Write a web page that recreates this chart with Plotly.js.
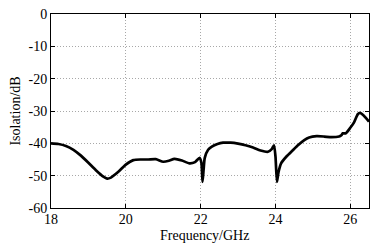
<!DOCTYPE html>
<html><head><meta charset="utf-8">
<script src="https://cdn.plot.ly/plotly-3.0.1.min.js"></script>
<style>html,body{margin:0;padding:0;background:#fff;}#c{width:377px;height:247px;}</style>
</head><body><div id="c"></div>
<script>
const freq = [18.0,18.2,18.4,18.6,18.8,19.0,19.2,19.4,19.5,19.6,19.8,20.0,20.2,20.4,20.6,20.8,21.0,21.15,21.3,21.5,21.7,21.85,21.97,22.02,22.05,22.08,22.11,22.2,22.3,22.45,22.6,22.8,23.0,23.2,23.4,23.6,23.8,23.9,23.96,24.0,24.04,24.08,24.15,24.3,24.45,24.6,24.77,24.9,25.1,25.3,25.5,25.7,25.76,25.8,25.88,26.0,26.1,26.2,26.26,26.35,26.5];
const isolation = [-40.0,-40.2,-40.8,-42.0,-43.8,-46.0,-48.3,-50.3,-50.9,-50.6,-48.8,-46.6,-45.2,-45.0,-45.0,-44.9,-45.7,-45.4,-44.8,-45.3,-46.2,-45.8,-44.5,-46.0,-51.9,-48.0,-44.5,-42.0,-41.0,-40.2,-39.8,-39.8,-40.1,-40.6,-41.3,-42.2,-42.6,-41.8,-40.6,-44.0,-51.9,-49.0,-46.2,-44.0,-42.3,-40.6,-39.0,-38.2,-37.8,-37.9,-38.1,-37.9,-37.5,-36.9,-36.9,-35.2,-33.5,-31.0,-30.6,-31.3,-33.3];
const xTicks = [18,20,22,24,26];
const yTicks = [0,-10,-20,-30,-40,-50,-60];
const xTitle = 'Frequency/GHz';
const yTitle = 'Isolation/dB';

const fam = 'Liberation Serif, Times New Roman, serif';
const axisCommon = {
  showline:true, linecolor:'#000', linewidth:1, mirror:'ticks',
  ticks:'inside', ticklen:4, tickcolor:'#000',
  showgrid:true, gridcolor:'#a8a8a8', griddash:'1px,2px', gridwidth:1,
  zeroline:false,
  tickfont:{family:fam, size:14, color:'#000'}
};
Plotly.newPlot('c', [{
  x: freq, y: isolation, type:'scatter', mode:'lines',
  line:{color:'#000', width:2.7, shape:'spline', smoothing:0.6}
}], {
  width:377, height:247,
  margin:{l:51, r:8, t:14, b:39},
  paper_bgcolor:'#fff', plot_bgcolor:'#fff',
  showlegend:false,
  xaxis: Object.assign({}, axisCommon, {
    range:[18,26.5], tickvals:xTicks, ticktext:xTicks.map(String), ticklabelstandoff:-2
  }),
  yaxis: Object.assign({}, axisCommon, {
    range:[-60,0], tickvals:yTicks, ticktext:yTicks.map(String),
    title:{text:yTitle, standoff:4, font:{family:fam, size:14, color:'#000'}}
  }),
  annotations:[{
    text:xTitle, xref:'paper', yref:'paper', x:0.482, y:-0.142,
    xanchor:'center', yanchor:'middle', showarrow:false,
    font:{family:fam, size:14, color:'#000'}
  }]
}, {staticPlot:true, displayModeBar:false});
</script></body></html>
